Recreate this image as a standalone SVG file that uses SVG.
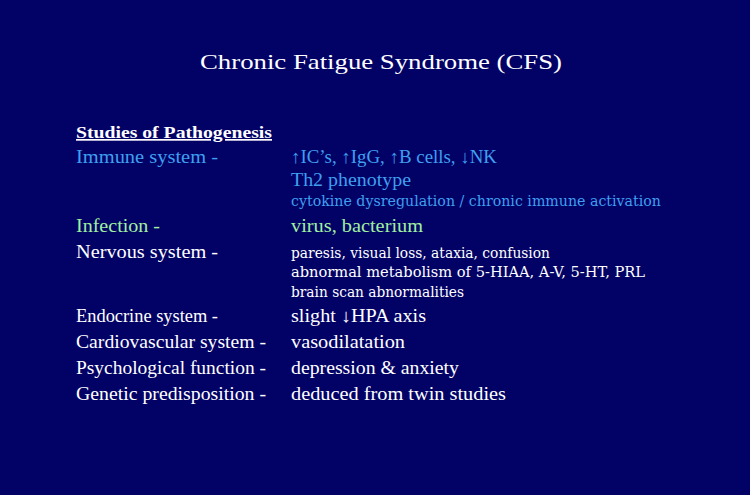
<svg xmlns="http://www.w3.org/2000/svg" width="750" height="495" viewBox="0 0 750 495">
<style>
text{font-family:"Liberation Serif",serif;fill:#fff}
.t{font-size:22px}
.l{font-size:17px}
.m{font-size:18.5px}
.s{font-size:14px;font-family:"DejaVu Serif",serif}
.b{fill:#3f9ff0}
.g{fill:#a0f0a0}
</style>
<rect width="750" height="495" fill="#020266"/>
<text class="t" x="200" y="69" textLength="362" lengthAdjust="spacingAndGlyphs">Chronic Fatigue Syndrome (CFS)</text>
<text class="l" x="76" y="138" font-weight="bold" text-decoration="underline" textLength="196" lengthAdjust="spacingAndGlyphs">Studies of Pathogenesis</text>
<text class="m b" x="76" y="163" textLength="142" lengthAdjust="spacingAndGlyphs">Immune system -</text>
<text class="m b" x="291" y="163" textLength="206" lengthAdjust="spacingAndGlyphs">↑IC’s, ↑IgG, ↑B cells, ↓NK</text>
<text class="m b" x="291" y="186" textLength="120" lengthAdjust="spacingAndGlyphs">Th2 phenotype</text>
<text class="s b" x="291" y="206" textLength="370" lengthAdjust="spacingAndGlyphs">cytokine dysregulation  / chronic immune activation</text>
<text class="m g" x="76" y="232" textLength="84" lengthAdjust="spacingAndGlyphs">Infection -</text>
<text class="m g" x="291" y="232" textLength="132" lengthAdjust="spacingAndGlyphs">virus, bacterium</text>
<text class="m" x="76" y="258" textLength="142" lengthAdjust="spacingAndGlyphs">Nervous system -</text>
<text class="s" x="291" y="258" textLength="259" lengthAdjust="spacingAndGlyphs">paresis, visual loss, ataxia, confusion</text>
<text class="s" x="291" y="277" textLength="354" lengthAdjust="spacingAndGlyphs">abnormal metabolism of 5-HIAA, A-V, 5-HT, PRL</text>
<text class="s" x="291" y="297" textLength="173" lengthAdjust="spacingAndGlyphs">brain scan abnormalities</text>
<text class="m" x="76" y="322" textLength="142" lengthAdjust="spacingAndGlyphs">Endocrine system -</text>
<text class="m" x="291" y="322" textLength="135" lengthAdjust="spacingAndGlyphs">slight ↓HPA axis</text>
<text class="m" x="76" y="348" textLength="190" lengthAdjust="spacingAndGlyphs">Cardiovascular system -</text>
<text class="m" x="291" y="348" textLength="114" lengthAdjust="spacingAndGlyphs">vasodilatation</text>
<text class="m" x="76" y="374" textLength="190" lengthAdjust="spacingAndGlyphs">Psychological function -</text>
<text class="m" x="291" y="374" textLength="168" lengthAdjust="spacingAndGlyphs">depression &amp; anxiety</text>
<text class="m" x="76" y="400" textLength="190" lengthAdjust="spacingAndGlyphs">Genetic predisposition -</text>
<text class="m" x="291" y="400" textLength="215" lengthAdjust="spacingAndGlyphs">deduced from twin studies</text>
</svg>
